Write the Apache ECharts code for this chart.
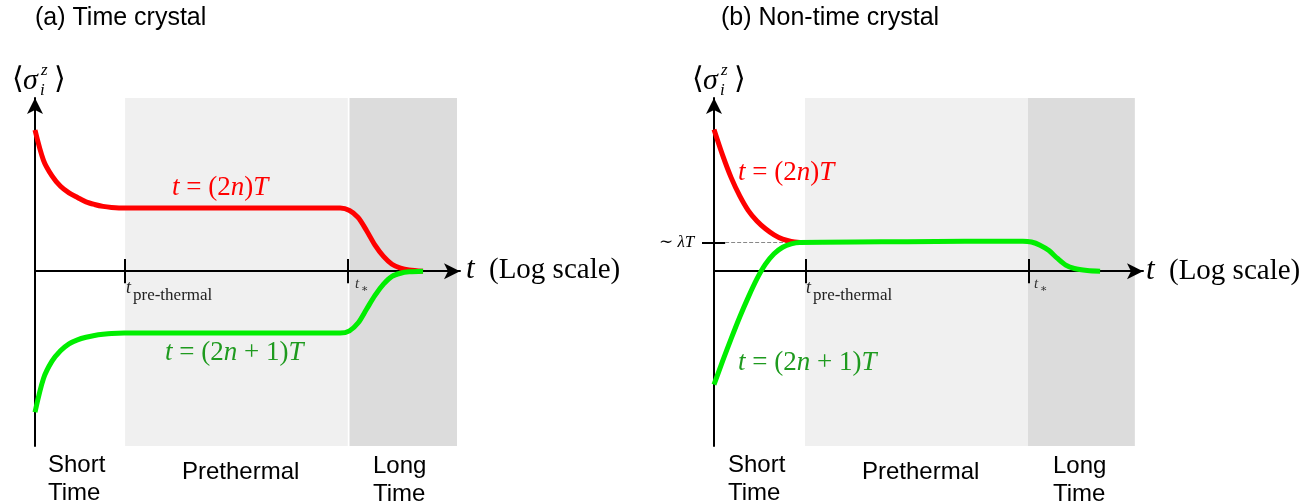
<!DOCTYPE html>
<html>
<head>
<meta charset="utf-8">
<script src="https://cdn.jsdelivr.net/npm/echarts@6/dist/echarts.min.js"></script>
<style>
html,body{margin:0;padding:0;background:#fff;}
#chart{width:1313px;height:503px;}
</style>
</head>
<body>
<div id="chart"></div>
<script>
// ---- Panel (a): Time crystal ----
const redA = [[0,0.815],[0.2,0.64],[0.4,0.55],[0.6,0.49],[0.8,0.452],[1.0,0.425],[1.2,0.40],[1.4,0.385],[1.6,0.374],[1.8,0.368],[2.1,0.364],[7.18,0.364],[7.4,0.35],[7.6,0.31],[7.8,0.235],[8.0,0.15],[8.2,0.085],[8.4,0.04],[8.6,0.018],[8.8,0.007],[9.13,0.0]];
const greenA = [[0,-0.815],[0.2,-0.62],[0.4,-0.52],[0.6,-0.46],[0.8,-0.42],[1.0,-0.397],[1.2,-0.382],[1.4,-0.372],[1.6,-0.365],[1.8,-0.36],[2.1,-0.358],[7.18,-0.358],[7.4,-0.345],[7.6,-0.30],[7.8,-0.22],[8.0,-0.14],[8.2,-0.075],[8.4,-0.03],[8.6,-0.012],[8.8,-0.004],[9.13,0.0]];
const preA = [2.12, 7.36];
const longA = [7.40, 9.93];
const ticksA = [2.12, 7.36];

// ---- Panel (b): Non-time crystal ----
const redB = [[0,0.818],[0.2,0.67],[0.4,0.54],[0.6,0.435],[0.8,0.35],[1.0,0.29],[1.2,0.245],[1.4,0.21],[1.6,0.185],[1.8,0.172],[2.0,0.166]];
const greenB = [[0,-0.656],[0.2,-0.52],[0.4,-0.39],[0.6,-0.265],[0.8,-0.15],[1.0,-0.045],[1.2,0.04],[1.4,0.10],[1.6,0.138],[1.8,0.157],[2.0,0.165],[4.5,0.170],[7.2,0.173],[7.4,0.168],[7.6,0.15],[7.8,0.12],[8.0,0.075],[8.2,0.035],[8.4,0.015],[8.7,0.004],[9.0,0.0]];
const preB = [2.12, 7.32];
const longB = [7.32, 9.81];
const ticksB = [2.14, 7.34];
const lambdaT = 0.166;

const xRange = [0, 10];
const yRange = [-1.01, 1.0];

const chart = echarts.init(document.getElementById('chart'));
const SERIF = 'Liberation Serif, DejaVu Serif, serif';
const SANS = 'Liberation Sans, Arial, sans-serif';

function axisX(gi){
  return {type:'value', gridIndex:gi, min:xRange[0], max:xRange[1], z:3,
    axisLine:{show:true, onZero:true, symbol:['none','arrow'], symbolSize:[12,16], lineStyle:{color:'#000', width:2}},
    axisTick:{show:false}, axisLabel:{show:false}, splitLine:{show:false}};
}
function axisY(gi, tickVals){
  return {type:'value', gridIndex:gi, min:yRange[0], max:yRange[1], z:3,
    axisLine:{show:true, onZero:false, symbol:['none','arrow'], symbolSize:[12,16], lineStyle:{color:'#000', width:2}},
    axisTick:tickVals ? {show:true, customValues:tickVals, length:12, inside:false, lineStyle:{color:'#000', width:2}} : {show:false},
    axisLabel:{show:false}, splitLine:{show:false}};
}
function tickLines(arr){
  return arr.map(v => [{coord:[v,0.07]},{coord:[v,-0.07]}]);
}
function curve(name, data, gi, color, z){
  return {name, type:'line', xAxisIndex:gi, yAxisIndex:gi, data, smooth:0.3, symbol:'none',
    lineStyle:{color, width:5}, z, clip:false, animation:false, silent:true};
}

const markLineBase = {symbol:['none','none'], silent:true, label:{show:false}, animation:false};

const series = [
  {type:'line', xAxisIndex:0, yAxisIndex:0, data:[], z:1, silent:true, animation:false,
    markArea:{silent:true, data:[
      [{xAxis:preA[0], itemStyle:{color:'#f0f0f0'}},{xAxis:preA[1]}],
      [{xAxis:longA[0], itemStyle:{color:'#dcdcdc'}},{xAxis:longA[1]}]
    ]}
  },
  {type:'line', xAxisIndex:0, yAxisIndex:0, data:[], z:4, silent:true, animation:false,
    markLine:Object.assign({}, markLineBase, {lineStyle:{color:'#000', width:2, type:'solid'}, data:tickLines(ticksA)})
  },
  curve('t=(2n)T a', redA, 0, '#ff0000', 5),
  curve('t=(2n+1)T a', greenA, 0, '#00ee00', 5),
  {type:'line', xAxisIndex:1, yAxisIndex:1, data:[], z:1, silent:true, animation:false,
    markArea:{silent:true, data:[
      [{xAxis:preB[0], itemStyle:{color:'#f0f0f0'}},{xAxis:preB[1]}],
      [{xAxis:longB[0], itemStyle:{color:'#dcdcdc'}},{xAxis:longB[1]}]
    ]}
  },
  {type:'line', xAxisIndex:1, yAxisIndex:1, data:[], z:4, silent:true, animation:false,
    markLine:Object.assign({}, markLineBase, {lineStyle:{color:'#000', width:2, type:'solid'}, data:tickLines(ticksB).concat([
      [{coord:[0,lambdaT]},{coord:[0.26,lambdaT]}],
      [{coord:[0.26,lambdaT], lineStyle:{color:'#888', width:1, type:'dashed'}},{coord:[2.0,lambdaT]}]
    ])})
  },
  curve('t=(2n)T b', redB, 1, '#ff0000', 5),
  curve('t=(2n+1)T b', greenB, 1, '#00ee00', 6)
];

function T(x, y, text, size, color, family, extra){
  return {type:'text', x, y, silent:true, z:100,
    style:Object.assign({text, fill:color||'#000', fontSize:size, fontFamily:family||SANS, align:'left', verticalAlign:'middle'}, extra||{})};
}
function mathLabel(x, y, parts, size, color){
  return {type:'text', x, y, silent:true, z:100,
    style:{text:parts, fill:color, fontSize:size, fontFamily:SERIF, align:'left', verticalAlign:'middle',
      rich:{i:{fontStyle:'italic', fontSize:size, fontFamily:SERIF, fill:color}, r:{fontSize:size, fontFamily:SERIF, fill:color}}}};
}
function sigmaLabel(x0, y0){
  return [
    T(x0, y0, '⟨', 30, '#000', SERIF),
    T(x0+11, y0+1, 'σ', 30, '#000', SERIF, {fontStyle:'italic'}),
    T(x0+29, y0-9, 'z', 17, '#000', SERIF, {fontStyle:'italic'}),
    T(x0+28, y0+11, 'i', 17, '#000', SERIF, {fontStyle:'italic'}),
    T(x0+42, y0, '⟩', 30, '#000', SERIF)
  ];
}
function subLabel(x, y, sub){
  return [
    T(x, y, 't', 18, '#222', SERIF, {fontStyle:'italic'}),
    T(x+7, y+8, sub, 17, '#222', SERIF)
  ];
}
function logScale(x, y){
  return [
    T(x, y, 't', 31, '#000', SERIF, {fontStyle:'italic'}),
    T(x+23, y, '(Log scale)', 29, '#000', SERIF)
  ];
}

const graphic = [
  T(35, 18, '(a) Time crystal', 25),
  T(721, 18, '(b) Non-time crystal', 25),
  ...sigmaLabel(12, 80),
  ...sigmaLabel(692, 80),
  ...logScale(466, 270),
  ...logScale(1146, 271),
  ...subLabel(126, 288, 'pre-thermal'),
  ...subLabel(806, 288, 'pre-thermal'),
  T(355, 284, 't', 15, '#333', SERIF, {fontStyle:'italic'}),
  T(361, 289, '∗', 11, '#333', SERIF),
  T(1034, 284, 't', 15, '#333', SERIF, {fontStyle:'italic'}),
  T(1040, 289, '∗', 11, '#333', SERIF),
  {type:'text', x:659, y:243, silent:true, z:100, style:{text:'∼ {i|λT}', fill:'#000', fontSize:17, fontFamily:SERIF, align:'left', verticalAlign:'middle', rich:{i:{fontStyle:'italic', fontSize:17, fontFamily:SERIF, fill:'#000'}}}},
  mathLabel(172, 188, '{i|t} {r|= (2}{i|n}{r|)}{i|T}', 27, '#ff0000'),
  mathLabel(165, 353, '{i|t} {r|= (2}{i|n}{r| + 1)}{i|T}', 27, '#1e9a1e'),
  mathLabel(738, 173, '{i|t} {r|= (2}{i|n}{r|)}{i|T}', 27, '#ff0000'),
  mathLabel(738, 363, '{i|t} {r|= (2}{i|n}{r| + 1)}{i|T}', 27, '#1e9a1e'),
  T(48, 465, 'Short', 24),
  T(48, 493, 'Time', 24),
  T(182, 472, 'Prethermal', 24),
  T(373, 466, 'Long', 24),
  T(373, 494, 'Time', 24),
  T(728, 465, 'Short', 24),
  T(728, 493, 'Time', 24),
  T(862, 472, 'Prethermal', 24),
  T(1053, 466, 'Long', 24),
  T(1053, 494, 'Time', 24)
];

chart.setOption({
  animation:false,
  backgroundColor:'#fff',
  grid:[
    {left:35, top:98, width:425, height:348},
    {left:714, top:98, width:429, height:348}
  ],
  xAxis:[axisX(0), axisX(1)],
  yAxis:[axisY(0), axisY(1, [lambdaT])],
  series,
  graphic
});
</script>
</body>
</html>
